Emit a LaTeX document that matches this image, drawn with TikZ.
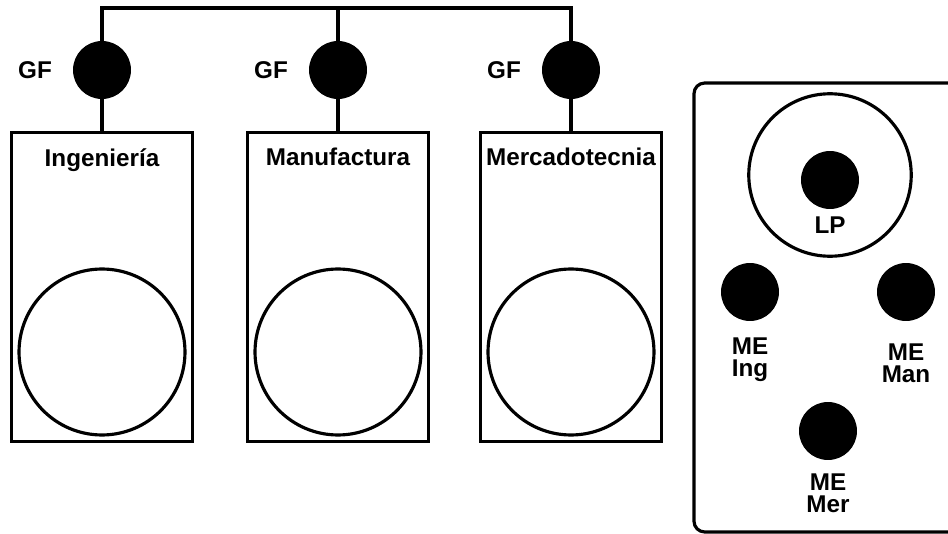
\documentclass[tikz,border=0pt]{standalone}
\usepackage{fontspec}
\setmainfont{Liberation Sans}
\usetikzlibrary{positioning}
\tikzstyle{dot}=[circle,fill=black,minimum size=1.16cm,inner sep=0pt]
\tikzstyle{ring}=[circle,draw,line width=1.8pt,minimum size=3.32cm,inner sep=0pt]
\tikzstyle{dept}=[draw,line width=1.8pt,minimum width=3.62cm,minimum height=6.18cm,inner sep=0pt]
\tikzstyle{tag}=[font=\bfseries\fontsize{13.8}{12.5}\selectfont,align=center,inner sep=0pt]
\tikzstyle{link}=[draw,line width=1.8pt]

\begin{document}
\begin{tikzpicture}[x=0.02cm,y=-0.02cm]
\path[use as bounding box,clip] (0,0) rectangle (948,534);

% First we draw the three departments with their GF dots
\foreach \x/\name/\title/\ty in {102/ing/Ingeniería/160, 338/man/Manufactura/157, 571/mer/Mercadotecnia/157}
{
	\node[dept] (\name) at (\x,287) {};
	\node[tag] (\name-title) at (\x,\ty) {\title};
	\node[ring] (\name-ring) at (\x,352) {};
	\node[dot] (\name-gf) at (\x,70) {};
	\node[tag] (\name-gflabel) at (\x-67,70) {GF};
	\path[link] (\name-gf) -- (\name);
}

% The bus joining the GF dots
\coordinate (bus) at (338,8);
\path[link] (ing-gf) |- (bus) -| (mer-gf);
\path[link] (man-gf) -- (man-gf |- bus);

% Panel on the right with LP and the ME dots
\node[draw,line width=1.8pt,rounded corners=6pt,minimum width=6.12cm,minimum height=8.98cm] (panel) at (847,307.5) {};
\node[ring,minimum size=3.25cm] (lp-ring) at (830,175) {};
\node[dot] (lp) at (830,180) {};
\node[tag] (lp-label) at (830,225) {LP};

\foreach \x/\y/\name/\short/\gap in {750/292/ing/Ing/0.32cm, 906/292/man/Man/0.44cm, 828/431/mer/Mer/0.26cm}
{
	\node[dot] (me-\name) at (\x,\y) {};
	\node[tag,below=\gap of me-\name] (me-\name-label) {ME\\\short};
}

\end{tikzpicture}
\end{document}
